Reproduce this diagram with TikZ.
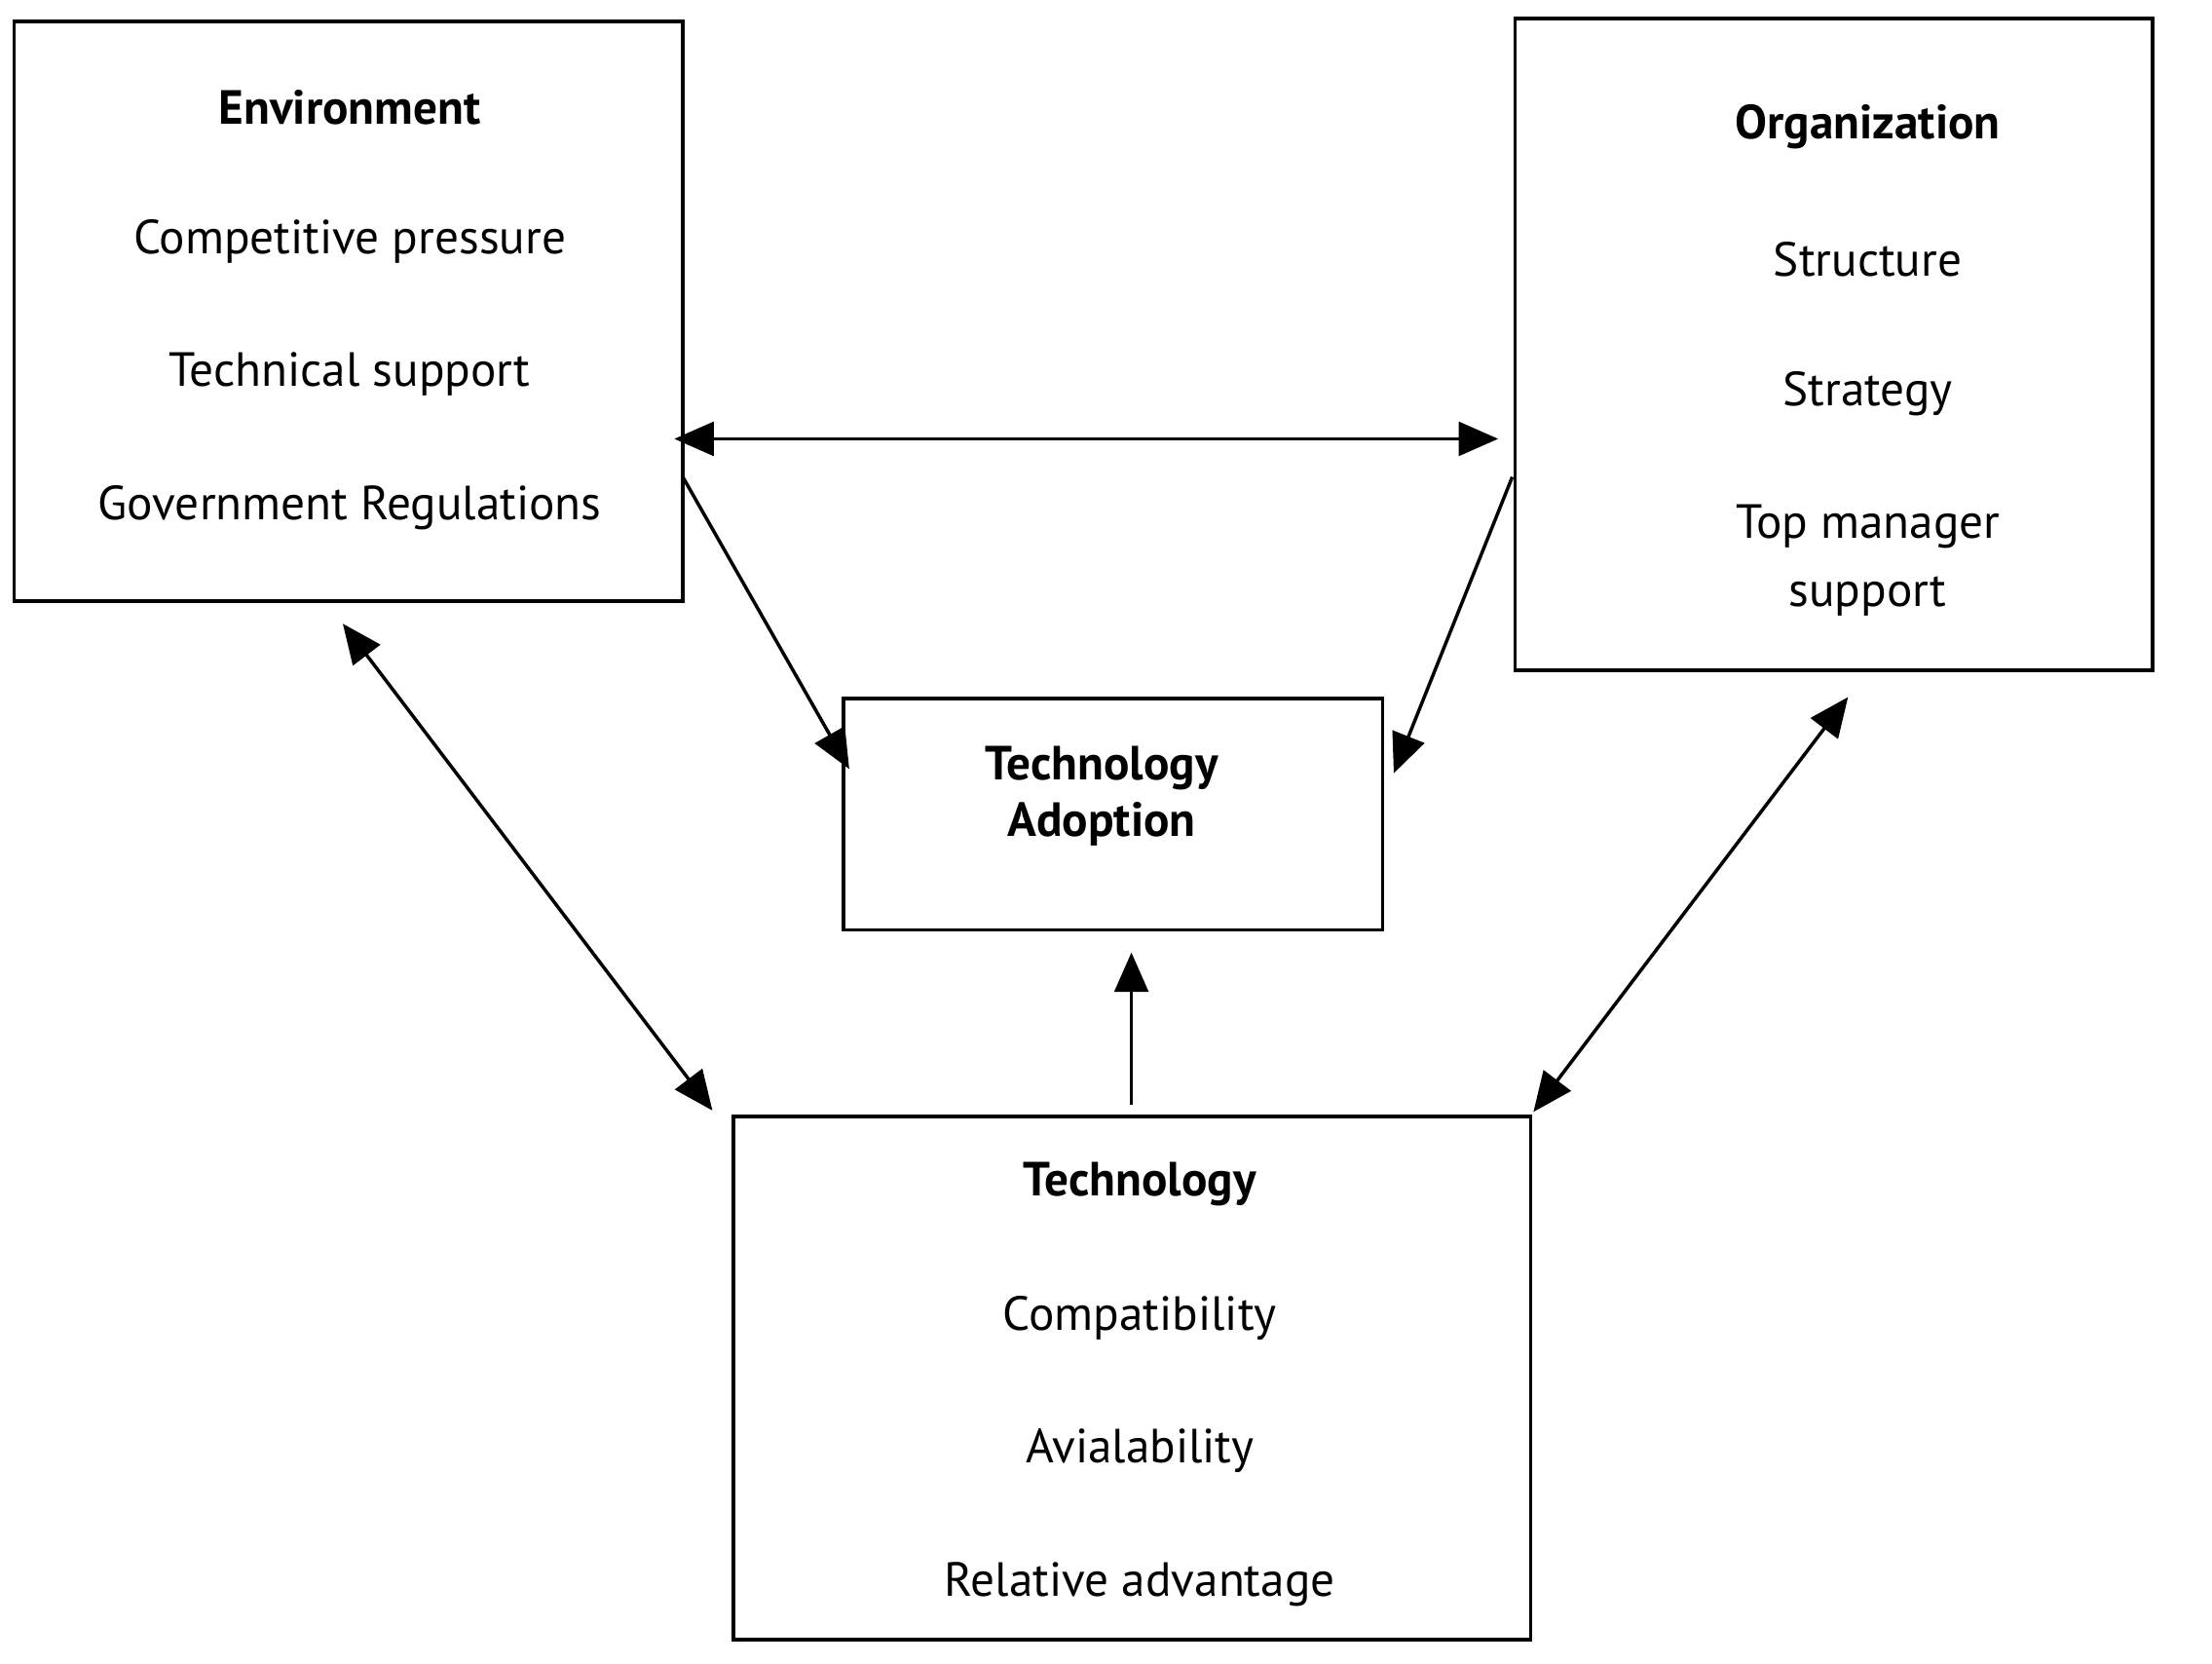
\documentclass[tikz,border=0pt]{standalone}
\usepackage{fontspec}
\setmainfont{PT Sans}
\usetikzlibrary{arrows.meta}
\begin{document}
\begin{tikzpicture}[x=0.5pt,y=-0.5pt,
  box/.style={draw,line width=1.3pt},
  txt/.style={font=\fontsize{17}{20}\selectfont,inner sep=0pt},
  ttl/.style={font=\fontsize{17}{20}\selectfont\bfseries,inner sep=0pt},
  arr/.style={line width=1.2pt,-{Triangle[length=14pt,width=12pt]}},
  darr/.style={line width=1.2pt,{Triangle[length=14pt,width=12pt]}-{Triangle[length=14pt,width=12pt]}}]
\useasboundingbox (0,0) rectangle (1568,1179);
\draw[box] (10,15) rectangle (484,426);
\draw[box] (1074,13) rectangle (1526,475);
\draw[box] (598,495) rectangle (980,659);
\draw[box] (520,791) rectangle (1085,1162);
\node[ttl] (et) at (248,76) {Environment};
\node[txt] (e1) at (248,171) {Competitive pressure};
\node[txt] (e2) at (248,265) {Technical support};
\node[txt] (e3) at (248,360) {Government Regulations};
\node[ttl] (ot) at (1324,90) {Organization};
\node[txt] (o1) at (1324,184) {Structure};
\node[txt] (o2) at (1324,279) {Strategy};
\node[txt,align=center] (o3) at (1324,397) {Top manager\\[4pt]support};
\node[ttl,align=center] (ta) at (781,564) {Technology\\Adoption};
\node[ttl] (tt) at (808,839) {Technology};
\node[txt] (t1) at (808,934) {Compatibility};
\node[txt] (t2) at (808,1028) {Avialability};
\node[txt] (t3) at (808,1123) {Relative advantage};
\coordinate (a1) at (478,311); \coordinate (a2) at (1062,311);
\coordinate (b1) at (484,338); \coordinate (b2) at (602,545);
\coordinate (c1) at (1072,338); \coordinate (c2) at (988,548);
\coordinate (d1) at (243,442); \coordinate (d2) at (505,787);
\coordinate (f1) at (1310,494); \coordinate (f2) at (1087,788);
\coordinate (g1) at (802,783); \coordinate (g2) at (802,675);
\draw[darr] (a1) -- (a2);
\draw[arr] (b1) -- (b2);
\draw[arr] (c1) -- (c2);
\draw[darr] (d1) -- (d2);
\draw[darr] (f1) -- (f2);
\draw[arr] (g1) -- (g2);
\end{tikzpicture}
\end{document}
